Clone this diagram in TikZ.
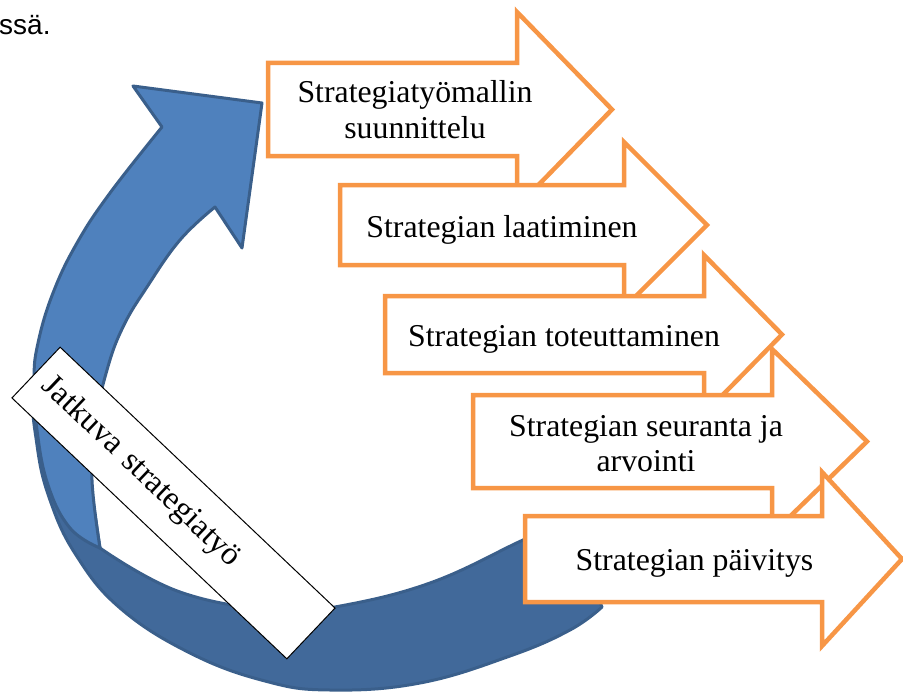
\documentclass[tikz,border=0pt]{standalone}
\usepackage{fontspec}
\setmainfont{Liberation Serif}
\newfontfamily\uisans{Liberation Sans}
\definecolor{flowor}{HTML}{F79646}
\definecolor{bandlight}{HTML}{4F81BD}
\definecolor{banddark}{HTML}{41699A}
\definecolor{blueline}{HTML}{3A5F8B}
% block arrow: left, top, bottom, neck x, head top, tip x
\newcommand\flowarrow[6]{%
  \draw[flow] (#1,-#2) -- (#4,-#2) -- (#4,-#5) -- (#6,{-(#2+#3)/2})
    -- (#4,{-(#2+#3-#5)}) -- (#4,-#3) -- (#1,-#3) -- cycle;}
\begin{document}
\begin{tikzpicture}[x=1pt,y=1pt,
  bandedge/.style={draw=blueline, line width=3pt, line join=round},
  flow/.style={draw=flowor, fill=white, line width=4.5pt, line join=miter},
  flowtext/.style={font=\fontsize{31.8pt}{35.5pt}\selectfont, inner sep=0pt, align=center},
]
\useasboundingbox (0,0) rectangle (903,-693);

% end of the sentence above the figure
\node[font=\uisans\fontsize{28pt}{30pt}\selectfont, anchor=base west, inner sep=0pt] (frag) at (-1,-35) {ssä.};

% circular arrow: shaded back part along the bottom
\path[bandedge, fill=banddark]
  plot[smooth, tension=0.7] coordinates {(55,-330) (34,-385) (37,-445) (50,-500) (76,-555) (120,-608) (190,-653) (265,-681) (330,-690) (420,-683) (510,-656) (570,-630) (602,-607)}
  -- (565,-522)
  -- plot[smooth, tension=0.7] coordinates {(565,-522) (523,-540) (430,-583) (335,-607) (280,-611) (180,-592) (100,-548)}
  -- plot[smooth, tension=0.7] coordinates {(100,-548) (85,-450) (72,-380) (55,-330)}
  -- cycle;

% circular arrow: front part with the head
\path[bandedge, fill=bandlight]
  (162,-127) -- (133,-86) -- (262,-103) -- (242,-248) -- (215,-207)
  -- plot[smooth, tension=0.7] coordinates {(215,-207) (180,-240) (147,-287) (123,-327) (107,-370) (95,-425) (92,-480) (100,-548)}
  -- plot[smooth, tension=0.7] coordinates {(100,-548) (70,-528) (48,-485) (37,-430) (34,-380) (38,-343) (53,-293) (77,-243) (110,-193) (162,-127)}
  -- cycle;

% label across the circular arrow
\node[draw=black, fill=white, line width=1pt, rotate=-43.5,
      minimum width=379pt, minimum height=70pt, text width=352pt,
      inner xsep=13.5pt, inner ysep=0pt, align=left,
      font=\fontsize{32.5pt}{36pt}\selectfont] (loop) at (173.5,-503) {Jatkuva strategiatyö};

% process steps
\flowarrow{268}{63}{156}{517}{12}{612}
\node[flowtext] (t1) at (415,-109.5) {Strategiatyömallin\\suunnittelu};

\flowarrow{340}{185}{265}{624}{142}{707}
\node[flowtext, anchor=base] (t2) at (502,-237) {Strategian laatiminen};

\flowarrow{385}{296}{373}{704}{255}{782}
\node[flowtext, anchor=base] (t3) at (564,-346) {Strategian toteuttaminen};

\flowarrow{473}{395}{488}{772}{349}{867}
\node[flowtext] (t4) at (646,-443.5) {Strategian seuranta ja\\arvointi};

\flowarrow{525}{516}{602}{822}{472}{902}
\node[flowtext, anchor=base] (t5) at (694.5,-570) {Strategian päivitys};
\end{tikzpicture}
\end{document}
